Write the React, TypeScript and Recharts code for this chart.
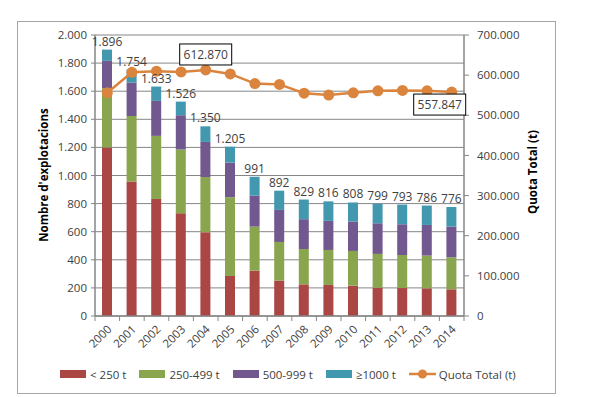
import {
  Bar,
  CartesianGrid,
  ComposedChart,
  LabelList,
  Legend,
  Line,
  XAxis,
  YAxis,
  Label,
} from "recharts";

// Explotacions per tram de quota (stacked) + quota total (line, right axis).
const years = [
  "2000", "2001", "2002", "2003", "2004", "2005", "2006", "2007",
  "2008", "2009", "2010", "2011", "2012", "2013", "2014",
];
const under250 = [1200, 957, 833, 731, 596, 285, 323, 252, 225, 221, 216, 202, 199, 197, 190];
const from250to499 = [420, 467, 449, 454, 393, 560, 313, 275, 252, 249, 247, 240, 235, 233, 228];
const from500to999 = [196, 238, 249, 244, 250, 247, 221, 228, 212, 207, 209, 218, 219, 218, 218];
const over1000 = [80, 92, 102, 97, 111, 113, 134, 137, 140, 139, 136, 139, 140, 138, 140];
const totals = [1896, 1754, 1633, 1526, 1350, 1205, 991, 892, 829, 816, 808, 799, 793, 786, 776];
const quotaTotal = [
  556000, 607000, 610000, 608000, 612870, 603000, 579000, 577000,
  555000, 550500, 556000, 561000, 562000, 561000, 557847,
];
const leftTicks = [0, 200, 400, 600, 800, 1000, 1200, 1400, 1600, 1800, 2000];
const rightTicks = [0, 100000, 200000, 300000, 400000, 500000, 600000, 700000];
const calloutIndexes = [4, 14];

const data = years.map((year, i) => ({
  year,
  under250: under250[i],
  from250to499: from250to499[i],
  from500to999: from500to999[i],
  over1000: over1000[i],
  total: totals[i],
  quota: quotaTotal[i],
}));

const FONT = "'Open Sans', sans-serif";
const TEXT = "#404040";
const AXIS = "#868686";
const COLORS = {
  under250: "#AA4643",
  from250to499: "#89A54E",
  from500to999: "#71588F",
  over1000: "#4198AF",
  quota: "#DB843D",
};

const margin = { top: 35, right: 66, bottom: 8, left: 17 };
const LEFT_W = 78;
const RIGHT_W = 70;
const BAND = (600 - margin.left - margin.right - LEFT_W - RIGHT_W) / years.length;

// thousands with a dot, like the Catalan Excel original
const fmt = (v: number) => String(Math.round(v)).replace(/\B(?=(\d{3})+(?!\d))/g, ".");

function YearTick({ x, y, payload, index }: any) {
  return (
    <g>
      {index === 0 && <line x1={x - BAND / 2} x2={x - BAND / 2} y1={y} y2={y + 5} stroke={AXIS} />}
      <line x1={x + BAND / 2} x2={x + BAND / 2} y1={y} y2={y + 5} stroke={AXIS} />
      <text
        x={x + 5}
        y={y + 14}
        transform={`rotate(-45 ${x + 5} ${y + 14})`}
        textAnchor="end"
        fontSize={11.5}
        fontFamily={FONT}
        fill={TEXT}
      >
        {payload.value}
      </text>
    </g>
  );
}

function Callout(props: any) {
  const { x, y, index, value } = props;
  if (!calloutIndexes.includes(index)) return null;
  const above = index === 4;
  const bx = above ? x - 26 : x - 38;
  const by = above ? y - 26 : y + 2;
  return (
    <g>
      <rect x={bx} y={by} width={52} height={21} fill="#fff" stroke="#000" strokeWidth={1} />
      <text x={bx + 26} y={by + 15} textAnchor="middle" fontSize={12} fontFamily={FONT} fill={TEXT}>
        {fmt(value)}
      </text>
    </g>
  );
}

const legendItems = [
  { label: "< 250 t", color: COLORS.under250, type: "rect" },
  { label: "250-499 t", color: COLORS.from250to499, type: "rect" },
  { label: "500-999 t", color: COLORS.from500to999, type: "rect" },
  { label: "\u22651000 t", color: COLORS.over1000, type: "rect" },
  { label: "Quota Total (t)", color: COLORS.quota, type: "line" },
];

function ChartLegend() {
  return (
    <div
      style={{
        display: "flex",
        alignItems: "center",
        height: 30,
        paddingLeft: 60,
        fontFamily: FONT,
        fontSize: 11.5,
        color: TEXT,
      }}
    >
      {legendItems.map((it) => (
        <div key={it.label} style={{ display: "flex", alignItems: "center", marginRight: 13 }}>
          <svg width={27} height={10} style={{ marginRight: 3 }}>
            {it.type === "rect" ? (
              <rect x={0} y={1} width={26} height={8} fill={it.color} />
            ) : (
              <>
                <line x1={0} x2={27} y1={5} y2={5} stroke={it.color} strokeWidth={2.5} />
                <circle cx={13.5} cy={5} r={4.5} fill={it.color} />
              </>
            )}
          </svg>
          <span>{it.label}</span>
        </div>
      ))}
    </div>
  );
}

export default function App() {
  return (
    <div style={{ position: "absolute", left: 0, top: 0, width: 600, height: 397, background: "#fff" }}>
      <div
        style={{
          position: "absolute",
          left: 17,
          top: 21,
          width: 537,
          height: 371,
          border: "1px solid #a6a6a6",
        }}
      />
      <ComposedChart width={600} height={397} data={data} margin={margin} barSize={10}>
        <CartesianGrid yAxisId="left" vertical={false} stroke={AXIS} />
        <XAxis
          dataKey="year"
          height={43}
          tickLine={false}
          tickSize={0}
          tickMargin={0}
          interval={0}
          axisLine={{ stroke: AXIS, strokeWidth: 1.5 }}
          tick={<YearTick />}
        />
        <YAxis
          yAxisId="left"
          width={LEFT_W}
          domain={[0, 2000]}
          ticks={leftTicks}
          tickFormatter={fmt}
          tick={{ fontSize: 11.5, fontFamily: FONT, fill: TEXT }}
          tickLine={{ stroke: AXIS }}
          tickSize={4}
          tickMargin={4}
          axisLine={{ stroke: AXIS, strokeWidth: 1.5 }}
        >
          <Label
            content={() => (
              <text
                x={43}
                y={175}
                transform="rotate(-90 43 175)"
                textAnchor="middle"
                dominantBaseline="central"
                fontSize={11.5}
                fontWeight="bold"
                fontFamily={FONT}
                fill="#000"
              >
                Nombre d'explotacions
              </text>
            )}
          />
        </YAxis>
        <YAxis
          yAxisId="right"
          orientation="right"
          width={RIGHT_W}
          domain={[0, 700000]}
          ticks={rightTicks}
          tickFormatter={fmt}
          tick={{ fontSize: 11.5, fontFamily: FONT, fill: TEXT }}
          tickLine={{ stroke: AXIS }}
          tickSize={5}
          tickMargin={8}
          axisLine={{ stroke: AXIS, strokeWidth: 1.5 }}
        >
          <Label
            content={() => (
              <text
                x={532}
                y={172}
                transform="rotate(-90 532 172)"
                textAnchor="middle"
                dominantBaseline="central"
                fontSize={11.5}
                fontWeight="bold"
                fontFamily={FONT}
                fill="#000"
              >
                Quota Total (t)
              </text>
            )}
          />
        </YAxis>
        <Bar yAxisId="left" dataKey="under250" stackId="s" fill={COLORS.under250} isAnimationActive={false} />
        <Bar yAxisId="left" dataKey="from250to499" stackId="s" fill={COLORS.from250to499} isAnimationActive={false} />
        <Bar yAxisId="left" dataKey="from500to999" stackId="s" fill={COLORS.from500to999} isAnimationActive={false} />
        <Bar yAxisId="left" dataKey="over1000" stackId="s" fill={COLORS.over1000} isAnimationActive={false}>
          <LabelList
            dataKey="total"
            position="top"
            offset={4}
            formatter={(v: any) => fmt(Number(v))}
            style={{ fontSize: 12, fontFamily: FONT, fill: TEXT }}
          />
        </Bar>
        <Line
          yAxisId="right"
          dataKey="quota"
          stroke={COLORS.quota}
          strokeWidth={2.5}
          dot={{ r: 5.5, fill: COLORS.quota, stroke: COLORS.quota, strokeWidth: 0 }}
          isAnimationActive={false}
        >
          <LabelList dataKey="quota" content={<Callout />} />
        </Line>
        <Legend verticalAlign="bottom" height={30} wrapperStyle={{ left: 0, width: 600 }} content={<ChartLegend />} />
      </ComposedChart>
    </div>
  );
}
